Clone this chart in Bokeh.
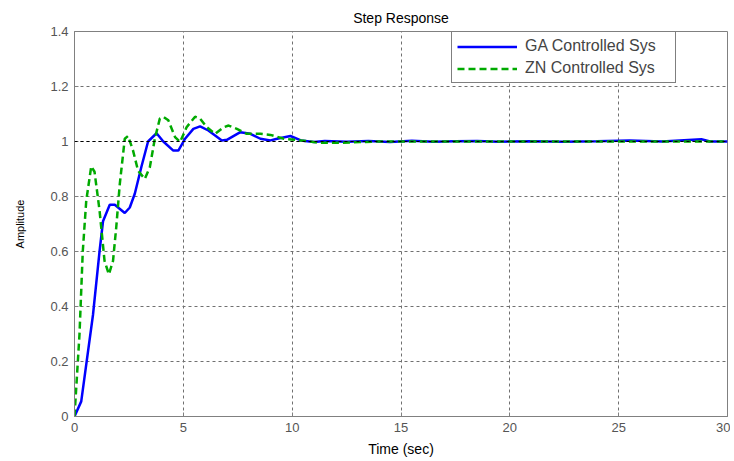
from bokeh.plotting import figure
from bokeh.models import Range1d, FixedTicker, CustomJSTickFormatter, Span, Legend, LegendItem
from bokeh.embed import file_html
from bokeh.resources import INLINE

# GA controlled system step response
ga_t = [0, 0.31, 0.85, 1.15, 1.31, 1.62, 1.85, 2.31, 2.54, 2.77, 3.08, 3.38, 3.77, 4.08, 4.54, 4.77,
        5.08, 5.46, 5.77, 6.15, 6.77, 7.0, 7.62, 8.08, 8.54, 9.0, 9.31, 9.92, 10.4, 11.0, 11.5, 12.5,
        13.5, 14.5, 15.5, 16.5, 17.5, 18.5, 19.5, 21.0, 22.5, 24.0, 25.5, 27.0, 28.8, 29.2, 30.0]
ga_y = [0, 0.055, 0.37, 0.60, 0.71, 0.77, 0.77, 0.74, 0.76, 0.81, 0.91, 1.0, 1.03, 1.0, 0.967, 0.967,
        1.01, 1.046, 1.055, 1.04, 1.004, 1.006, 1.034, 1.028, 1.01, 1.004, 1.01, 1.02, 1.004, 0.998, 1.002, 0.999,
        1.002, 0.998, 1.003, 0.999, 1.001, 1.002, 0.999, 1.001, 0.999, 1.001, 1.004, 1.0, 1.008, 1.0, 1.0]

# ZN controlled system step response
zn_t = [0, 0.23, 0.38, 0.54, 0.77, 0.92, 1.15, 1.38, 1.58, 1.77, 1.92, 2.08, 2.31, 2.46, 2.69, 2.92,
        3.23, 3.46, 3.69, 3.92, 4.08, 4.31, 4.62, 4.85, 5.15, 5.54, 5.77, 6.08, 6.46, 6.85, 7.08, 7.46,
        7.92, 8.54, 9.0, 9.62, 10.4, 11.2, 12.2, 13.1, 14.0, 30.0]
zn_y = [0, 0.30, 0.60, 0.785, 0.91, 0.89, 0.75, 0.566, 0.517, 0.566, 0.69, 0.845, 1.01, 1.02, 0.967, 0.894,
        0.864, 0.906, 1.01, 1.083, 1.09, 1.077, 1.016, 0.998, 1.052, 1.09, 1.083, 1.052, 1.028, 1.052, 1.058, 1.046,
        1.028, 1.028, 1.024, 1.01, 1.004, 0.996, 0.995, 0.998, 1.0, 1.0]

x_ticks = [0, 5, 10, 15, 20, 25, 30]
y_ticks = [0, 0.2, 0.4, 0.6, 0.8, 1.0, 1.2, 1.4]

FONT = "Liberation Sans"

p = figure(width=730, height=461, output_backend="svg", toolbar_location=None,
           x_range=Range1d(0, 30), y_range=Range1d(0, 1.4),
           min_border_left=74, min_border_right=3, min_border_top=31, min_border_bottom=45,
           title="Step Response", x_axis_label="Time (sec)", y_axis_label="Amplitude")
p.frame_width = 653
p.frame_height = 385

p.title.align = "center"
p.title.text_font = FONT
p.title.text_font_size = "14px"
p.title.text_font_style = "normal"
p.title.text_color = "#000000"
p.title.standoff = 12

for ax in (p.xaxis[0], p.yaxis[0]):
    ax.axis_line_color = "#808080"
    ax.major_tick_line_color = "#808080"
    ax.major_tick_in = 4
    ax.major_tick_out = 0
    ax.minor_tick_line_color = None
    ax.major_label_text_font = FONT
    ax.major_label_text_font_size = "13px"
    ax.major_label_text_color = "#555555"
    ax.axis_label_text_font = FONT
    ax.axis_label_text_font_style = "normal"
    ax.axis_label_text_color = "#000000"

p.xaxis.axis_label_text_font_size = "14px"
p.yaxis.axis_label_text_font_size = "11px"
p.xaxis.ticker = FixedTicker(ticks=x_ticks)
p.yaxis.ticker = FixedTicker(ticks=y_ticks)
p.yaxis.formatter = CustomJSTickFormatter(code="return Number(tick.toFixed(1)).toString();")
p.xaxis.major_label_standoff = 6
p.yaxis.major_label_standoff = 6
p.xaxis.axis_label_standoff = 6
p.yaxis.axis_label_standoff = 21

p.outline_line_color = "#808080"
p.outline_line_width = 1

p.xgrid.ticker = FixedTicker(ticks=x_ticks)
p.ygrid.ticker = FixedTicker(ticks=y_ticks)
for g in (p.xgrid[0], p.ygrid[0]):
    g.grid_line_color = "#707070"
    g.grid_line_dash = "3 3"
    g.grid_line_width = 1

p.add_layout(Span(location=1, dimension="width", line_color="#000000", line_dash="3 3", line_width=1))

r_ga = p.line(ga_t, ga_y, line_color="#0000ff", line_width=2.5)
r_zn = p.line(zn_t, zn_y, line_color="#00aa00", line_width=2.5, line_dash="7 4")

legend = Legend(items=[LegendItem(label="GA Controlled Sys", renderers=[r_ga]),
                       LegendItem(label="ZN Controlled Sys", renderers=[r_zn])],
                location=(377, 333))
legend.border_line_color = "#000000"
legend.border_line_width = 1
legend.background_fill_color = "#ffffff"
legend.background_fill_alpha = 1
legend.label_text_font = FONT
legend.label_text_font_size = "16px"
legend.glyph_width = 60
legend.glyph_height = 15
legend.label_height = 16
legend.label_width = 145
legend.spacing = 4
legend.padding = 5
legend.margin = 0
legend.label_standoff = 8
p.add_layout(legend, "center")

open("out.html", "w").write(file_html(p, INLINE))
